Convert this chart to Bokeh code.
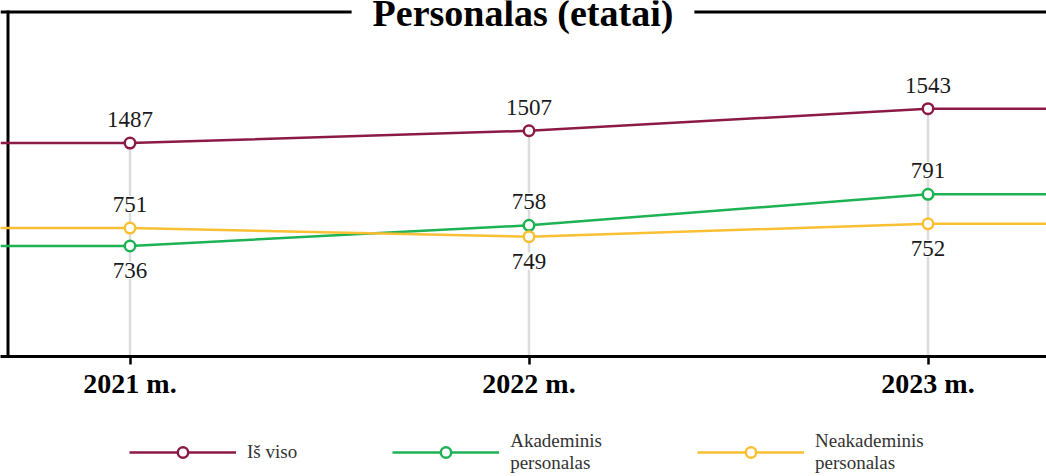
from bokeh.plotting import figure
from bokeh.layouts import column
from bokeh.models import Range1d, FixedTicker, Label, Legend, LegendItem
from bokeh.core.properties import value
from bokeh.embed import file_html
from bokeh.resources import INLINE

# ---- data ----
years = [2021, 2022, 2023]
year_labels = ["2021 m.", "2022 m.", "2023 m."]
total = [1487, 1507, 1543]
academic = [736, 758, 791]
non_academic = [751, 749, 752]
series_names = ["Iš viso", "Akademinis\npersonalas", "Neakademinis\npersonalas"]
title_text = "Personalas (etatai)"

# ---- styling ----
MAROON = "#8b1a47"
GREEN = "#1db254"
YELLOW = "#fbbf33"
GRID = "#dcdcdc"
FONT = "Liberation Serif"

W = 1046
H_CHART = 410
H_LEGEND = 66
FRAME_H = 356
PX_PER_YEAR = 399.0
x_start = years[0] - 129.5 / PX_PER_YEAR
x_end = x_start + W / PX_PER_YEAR

p = figure(width=W, height=H_CHART, output_backend="svg", toolbar_location=None,
           x_range=Range1d(x_start, x_end), y_range=Range1d(0, FRAME_H),
           y_axis_location=None,
           min_border_left=0, min_border_right=0, min_border_top=0,
           min_border_bottom=H_CHART - FRAME_H,
           background_fill_color="white", border_fill_color="white",
           outline_line_color=None)
p.grid.visible = False

p.extra_y_ranges = {
    "tot": Range1d(1138.8, 1719.5),
    "aka": Range1d(618.3, 997.4),
    "nea": Range1d(721.14, 803.93),
}

# vertical guide lines from the total value down to the axis
p.segment(x0=years, y0=total, x1=years, y1=[p.extra_y_ranges["tot"].start] * len(years),
          y_range_name="tot", line_color=GRID, line_width=2.5)

# frame lines (top and left)
p.segment(x0=[x_start], x1=[x_end], y0=[FRAME_H - 11.5], y1=[FRAME_H - 11.5],
          line_color="black", line_width=3)
p.segment(x0=[x_start + 7.5 / PX_PER_YEAR], x1=[x_start + 7.5 / PX_PER_YEAR],
          y0=[0], y1=[FRAME_H - 10], line_color="black", line_width=3)

aka_above = [a > n for a, n in zip(academic, non_academic)]
series = [
    ("tot", total, MAROON, [True] * len(years)),
    ("aka", academic, GREEN, aka_above),
    ("nea", non_academic, YELLOW, [not f for f in aka_above]),
]

for rname, vals, color, above in series:
    xs = [x_start] + years + [x_end]
    ys = [vals[0]] + vals + [vals[-1]]
    p.line(xs, ys, y_range_name=rname, line_color=color, line_width=2.5)
    p.scatter(years, vals, y_range_name=rname, size=10.5, fill_color="white",
              line_color=color, line_width=2.5)
    for flag, off in ((True, -23.7), (False, 24.4)):
        xx = [x for x, a in zip(years, above) if a == flag]
        vv = [v for v, a in zip(vals, above) if a == flag]
        if not xx:
            continue
        p.text(xx, vv, text=[str(v) for v in vv], y_range_name=rname,
               text_align="center", text_baseline="middle", y_offset=off,
               text_font=value(FONT), text_font_size="23px", text_color="#1a1a1a",
               background_fill_color="white", padding=1)

title = Label(x=x_start + 522.5 / PX_PER_YEAR, y=FRAME_H - 12.4, text=title_text,
              text_align="center", text_baseline="middle",
              text_font=FONT, text_font_size="38px", text_font_style="bold",
              text_color="black", background_fill_color="white", padding=21)
p.add_layout(title)

ax = p.xaxis[0]
ax.ticker = FixedTicker(ticks=years)
ax.major_label_overrides = {y: l for y, l in zip(years, year_labels)}
ax.axis_line_width = 3
ax.axis_line_color = "black"
ax.major_tick_line_width = 2.5
ax.major_tick_line_color = "black"
ax.major_tick_out = 8
ax.major_tick_in = 0
ax.minor_tick_line_color = None
ax.major_label_standoff = 3
ax.major_label_text_font = FONT
ax.major_label_text_font_size = "28px"
ax.major_label_text_font_style = "bold"
ax.major_label_text_color = "black"

# ---- legend strip (its own figure; the series' first points lie outside its view) ----
p2 = figure(width=W, height=H_LEGEND, output_backend="svg", toolbar_location=None,
            x_range=Range1d(0, 1), y_range=Range1d(0, 1),
            x_axis_location=None, y_axis_location=None,
            min_border_left=0, min_border_right=0, min_border_top=0, min_border_bottom=0,
            background_fill_color="white", border_fill_color="white",
            outline_line_color=None)
p2.grid.visible = False
items = []
for (rname, vals, color, above), label in zip(series, series_names):
    lr = p2.line(years[:1], vals[:1], line_color=color, line_width=2.5)
    sr = p2.scatter(years[:1], vals[:1], fill_color="white", line_color=color,
                    line_width=2.5, size=10.5)
    items.append(LegendItem(label=label, renderers=[lr, sr]))

legend = Legend(items=items, orientation="horizontal", location=(129, 2),
                glyph_width=107, glyph_height=26, label_standoff=11, spacing=95,
                padding=0, margin=0, border_line_color=None, background_fill_alpha=0,
                label_text_font=FONT, label_text_font_size="19px",
                label_text_color="#333333", label_text_line_height=1.0)
p2.add_layout(legend)

layout = column(p, p2, spacing=0)
open("out.html", "w").write(file_html(layout, INLINE))
